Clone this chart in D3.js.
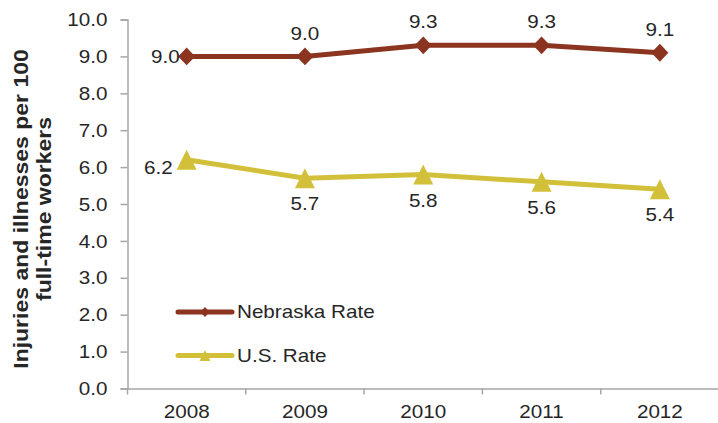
<!DOCTYPE html>
<html>
<head>
<meta charset="utf-8">
<script src="https://cdn.jsdelivr.net/npm/d3@7"></script>
<style>
  body { margin: 0; background: #fff; }
  svg text { font-family: "Liberation Sans", Arial, sans-serif; fill: #262626; }
</style>
</head>
<body>
<div id="chart"></div>
<script>
const years = ["2008", "2009", "2010", "2011", "2012"];
const nebraskaRate = [9.0, 9.0, 9.3, 9.3, 9.1];
const usRate = [6.2, 5.7, 5.8, 5.6, 5.4];
const yTicks = [0, 1, 2, 3, 4, 5, 6, 7, 8, 9, 10];

const width = 718, height = 423;
const margin = { top: 19.5, right: -1, bottom: 34.5, left: 127.5 };
const fontSize = "17.5px";
const stretchX = 1.18;

const svg = d3.select("#chart")
    .append("svg")
    .attr("width", width)
    .attr("height", height);

// the text in the chart is a bit wider than Liberation Sans, widen it around its anchor
function stretch(sel) {
    sel.attr("transform", function() {
        const x = +(this.getAttribute("x") || 0);
        return `translate(${x},0) scale(${stretchX},1) translate(${-x},0)`;
    });
}

const xScale = d3.scaleBand().domain(years).range([margin.left, width - margin.right]);
const yScale = d3.scaleLinear().domain([0, 10]).range([height - margin.bottom, margin.top]);
const cx = d => xScale(d) + xScale.bandwidth() / 2;

const axisColor = "#a6a6a6";

// y axis
const yAxis = svg.append("g")
    .attr("transform", `translate(${margin.left},0)`)
    .call(d3.axisLeft(yScale).tickValues(yTicks).tickFormat(d3.format(".1f")).tickSize(7).tickPadding(13));
yAxis.selectAll("line, path").attr("stroke", axisColor).attr("stroke-width", 1.5);
yAxis.selectAll("text").style("font-size", fontSize).attr("dy", "0.35em").call(stretch);

// x axis
const xAxis = svg.append("g")
    .attr("transform", `translate(0,${height - margin.bottom})`)
    .call(d3.axisBottom(xScale).tickSize(0).tickPadding(17));
xAxis.selectAll("path").attr("stroke", axisColor).attr("stroke-width", 1.5);
xAxis.selectAll("text").style("font-size", fontSize).call(stretch);
// tick marks between categories
xAxis.selectAll("line.sep")
    .data(years)
    .enter()
    .append("line")
    .attr("class", "sep")
    .attr("x1", d => xScale(d))
    .attr("x2", d => xScale(d))
    .attr("y1", 0)
    .attr("y2", 6)
    .attr("stroke", axisColor)
    .attr("stroke-width", 1.5);

// y title
const title = svg.append("g")
    .attr("transform", `translate(28,209) rotate(-90) scale(${stretchX},1)`)
    .append("text")
    .attr("text-anchor", "middle")
    .style("font-size", "19.5px")
    .style("font-weight", "bold");
title.append("tspan").attr("x", 0).attr("dy", "0").text("Injuries and illnesses per 100");
title.append("tspan").attr("x", 0).attr("dy", "1.18em").text("full-time workers");

// marker shapes
const diamond = {
    draw(ctx, size) {
        const h = Math.sqrt(size) / 2;
        ctx.moveTo(0, -h * 1.05);
        ctx.lineTo(h, 0);
        ctx.lineTo(0, h * 1.05);
        ctx.lineTo(-h, 0);
        ctx.closePath();
    }
};
const triangle = {
    draw(ctx, size) {
        const h = Math.sqrt(size) / 2;
        ctx.moveTo(0, -h);
        ctx.lineTo(h, h);
        ctx.lineTo(-h, h);
        ctx.closePath();
    }
};

const series = [
    { name: "Nebraska Rate", values: nebraskaRate, color: "#8B3520", symbol: diamond, size: 290,
      labelPos: ["left", "above", "above", "above", "above"], leftDx: -7, leftDy: 0 },
    { name: "U.S. Rate", values: usRate, color: "#D3C03A", symbol: triangle, size: 400,
      labelPos: ["left", "below", "below", "below", "below"], leftDx: -14, leftDy: 8 }
];

const line = d3.line()
    .x((d, i) => cx(years[i]))
    .y(d => yScale(d));

series.forEach(s => {
    svg.append("path")
        .datum(s.values)
        .attr("d", line)
        .attr("fill", "none")
        .attr("stroke", s.color)
        .attr("stroke-width", 5);

    svg.selectAll(null)
        .data(s.values)
        .enter()
        .append("path")
        .attr("d", d3.symbol().type(s.symbol).size(s.size))
        .attr("transform", (d, i) => `translate(${cx(years[i])},${yScale(d)})`)
        .attr("fill", s.color);

    svg.selectAll(null)
        .data(s.values)
        .enter()
        .append("text")
        .attr("x", (d, i) => s.labelPos[i] === "left" ? cx(years[i]) + s.leftDx : cx(years[i]))
        .attr("y", (d, i) => {
            const y = yScale(d);
            if (s.labelPos[i] === "left") return y + s.leftDy;
            return s.labelPos[i] === "above" ? y - 23 : y + 26;
        })
        .attr("dy", "0.35em")
        .attr("text-anchor", (d, i) => s.labelPos[i] === "left" ? "end" : "middle")
        .style("font-size", fontSize)
        .text(d => d3.format(".1f")(d))
        .call(stretch);
});

// legend
const legend = svg.append("g");
series.forEach((s, i) => {
    const ly = 312 + i * 43.5;
    legend.append("line")
        .attr("x1", 178).attr("x2", 232)
        .attr("y1", ly).attr("y2", ly)
        .attr("stroke", s.color)
        .attr("stroke-width", 5)
        .attr("stroke-linecap", "round");
    legend.append("path")
        .attr("d", d3.symbol().type(s.symbol).size(s.size * 0.3))
        .attr("transform", `translate(205,${ly})`)
        .attr("fill", s.color);
    legend.append("text")
        .attr("x", 237)
        .attr("y", ly)
        .attr("dy", "0.35em")
        .style("font-size", fontSize)
        .text(s.name)
        .call(stretch);
});
</script>
</body>
</html>
